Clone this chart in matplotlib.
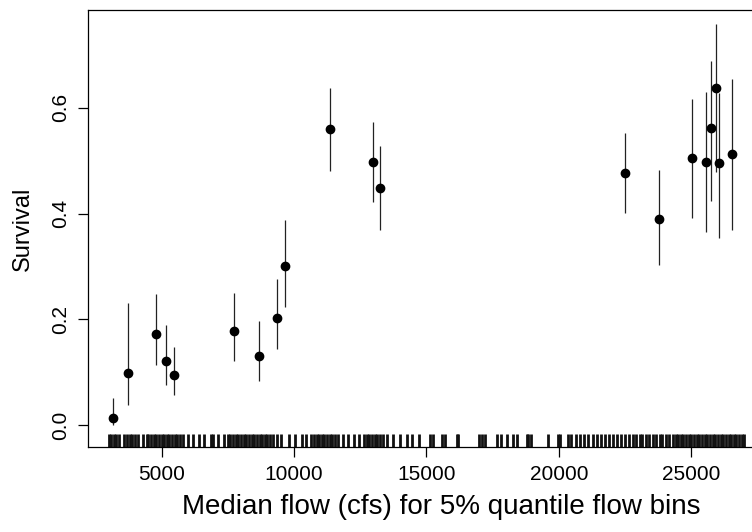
import numpy as np
import matplotlib.pyplot as plt

plt.rcParams['font.family'] = ['Liberation Sans', 'DejaVu Sans']

# binned survival estimates
flow = [3160, 3750, 4780, 5180, 5470, 7740, 8680, 9370, 9650, 11370, 12990, 13260,
        22500, 23780, 25030, 25540, 25740, 25940, 26040, 26530]
surv = [0.013, 0.098, 0.172, 0.122, 0.094, 0.178, 0.131, 0.202, 0.300, 0.560, 0.498, 0.448,
        0.477, 0.390, 0.505, 0.497, 0.561, 0.638, 0.496, 0.513]
lower = [0.000, 0.038, 0.114, 0.076, 0.057, 0.122, 0.084, 0.143, 0.223, 0.481, 0.421, 0.369,
         0.401, 0.303, 0.391, 0.366, 0.423, 0.479, 0.353, 0.369]
upper = [0.051, 0.231, 0.248, 0.189, 0.148, 0.250, 0.197, 0.276, 0.387, 0.638, 0.574, 0.527,
         0.552, 0.483, 0.617, 0.629, 0.689, 0.759, 0.628, 0.655]

# individual flow observations (rug)
rug = [3000, 3100, 3200, 3300, 3400,
       3600, 3700, 3800, 3900, 4000, 4100,
       4300, 4450,
       4500, 4600, 4700, 4800, 4900, 5000, 5100, 5200, 5300, 5400, 5500, 5600, 5700,
       5800, 6000, 6200, 6400,
       6600, 6850,
       6950, 7150, 7350,
       7500, 7600, 7700, 7800, 7900, 8000, 8100, 8200, 8300, 8400, 8500, 8600, 8700,
       8800, 8900, 9000, 9100,
       9200, 9350, 9500,
       9800, 10050, 10300,
       10450, 10650,
       10750, 10850, 10950, 11050, 11150, 11250, 11350, 11450, 11550, 11650,
       11850, 12050, 12250, 12450,
       12650, 12750, 12850, 12950, 13050, 13150, 13250, 13350,
       13500, 13750, 14000, 14250,
       14450, 14700,
       15150, 15250, 15600, 15700, 16150, 16200, 17000, 17100, 17200, 17650, 17800,
       18050, 18250, 18400, 18800, 18850, 18950, 19600, 19950, 20050, 20350, 20450,
       20650, 20800, 20950, 21100, 21300, 21450,
       21600, 21750, 21900, 22050, 22200, 22350, 22500,
       22650, 22800, 22900, 23050, 23150, 23300, 23400, 23550, 23650, 23800, 23900,
       24050, 24150, 24300, 24400,
       24500, 24600, 24700, 24800, 24900, 25000, 25100, 25200, 25300, 25400, 25500,
       25600, 25700, 25800, 25900, 26000, 26100, 26200, 26300, 26400, 26500, 26600,
       26700, 26800, 26900, 27000]

fig = plt.figure(figsize=(7.52, 5.32), dpi=100)
ax = fig.add_axes([88/752, 1 - 447/532, (794 - 88)/752, 437/532])

ax.vlines(flow, lower, upper, color='#222222', lw=0.9)
ax.plot(flow, surv, 'o', color='black', ms=6)
ax.vlines(rug, 0, 0.03, transform=ax.get_xaxis_transform(), color='#111111', lw=2.0)

ax.set_xlim(2226, 28871)
ax.set_ylim(-0.0416, 0.785)
ax.set_xticks([5000, 10000, 15000, 20000, 25000])
ax.set_yticks([0.0, 0.2, 0.4, 0.6])
ax.set_yticklabels(['0.0', '0.2', '0.4', '0.6'], rotation=90, va='center')
ax.tick_params(labelsize=15, length=7, width=0.9, color='black', pad=6)
for s in ax.spines.values():
    s.set_linewidth(0.9)

ax.set_xlabel('Median flow (cfs) for 5% quantile flow bins', fontsize=20, labelpad=7)
ax.set_ylabel('Survival', fontsize=17, labelpad=12)

fig.savefig('out.png', dpi=100)
